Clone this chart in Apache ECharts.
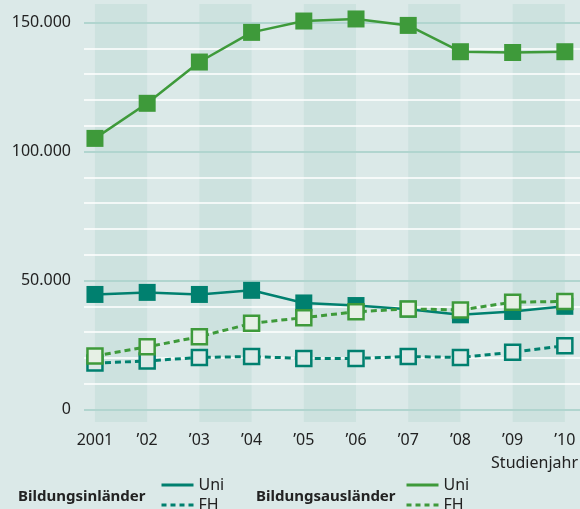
<!DOCTYPE html>
<html><head><meta charset="utf-8">
<script src="https://cdn.jsdelivr.net/npm/echarts@6/dist/echarts.min.js"></script>
<style>html,body{margin:0;padding:0;background:#dbe9e8;}#c{width:580px;height:509px;}</style>
</head><body><div id="c"></div>
<script>
const years = [2001, 2002, 2003, 2004, 2005, 2006, 2007, 2008, 2009, 2010];
const xTickLabels = ['2001', '\u201902', '\u201903', '\u201904', '\u201905', '\u201906', '\u201907', '\u201908', '\u201909', '\u201910'];
const yTickValues = [0, 50000, 100000, 150000];
const yTickLabels = ['0', '50.000', '100.000', '150.000'];
const minorGridValues = [10000, 20000, 30000, 40000, 60000, 70000, 80000, 90000, 110000, 120000, 130000, 140000];
const bandStarts = [2001, 2003, 2005, 2007, 2009];
const inlaenderUni = [44600, 45400, 44600, 46200, 41300, 40300, 38900, 36700, 38000, 40000];
const inlaenderFH = [18000, 18800, 20200, 20500, 19800, 19800, 20500, 20200, 22200, 24700];
const auslaenderUni = [105100, 118700, 134700, 146200, 150600, 151400, 148900, 138700, 138400, 138700];
const auslaenderFH = [20700, 24300, 28200, 33400, 35600, 37900, 39000, 38600, 41600, 41900];

const TEAL = '#00806f', GREEN = '#3e9a3a';
const FONT = 'Noto Sans';
const pairs = arr => years.map((y, i) => [y, arr[i]]);

const chart = echarts.init(document.getElementById('c'), null, {renderer: 'canvas'});
chart.setOption({
  animation: false,
  backgroundColor: '#dbe9e8',
  textStyle: {fontFamily: FONT},
  grid: {left: 84, right: 0, top: 4, bottom: 87},
  xAxis: {
    type: 'value', min: 2000.79, max: 2010.29,
    axisLine: {show: false}, axisTick: {show: false}, splitLine: {show: false},
    axisLabel: {customValues: years, formatter: v => xTickLabels[years.indexOf(v)],
      margin: 10, fontSize: 16, color: '#222', fontFamily: FONT}
  },
  yAxis: {
    type: 'value', min: -4850, max: 157200,
    axisLine: {show: false}, axisTick: {show: false}, splitLine: {show: false},
    axisLabel: {customValues: yTickValues, formatter: v => yTickLabels[yTickValues.indexOf(v)],
      margin: 13, fontSize: 16, color: '#222', fontFamily: FONT}
  },
  title: [
    {text: 'Studienjahr', right: 2, top: 455, padding: 0, textStyle: {fontSize: 16, fontWeight: 'normal', color: '#222', fontFamily: FONT}},
    {text: 'Bildungsinländer', left: 18, top: 489, padding: 0, textStyle: {fontSize: 15, fontWeight: 'bold', color: '#222', fontFamily: FONT}},
    {text: 'Bildungsausländer', left: 256, top: 489, padding: 0, textStyle: {fontSize: 15, fontWeight: 'bold', color: '#222', fontFamily: FONT}}
  ],
  legend: [
    {left: 160, top: 477, height: 80, orient: 'vertical', itemWidth: 32, itemHeight: 14, itemGap: 4, padding: 0,
      itemStyle: {opacity: 0}, formatter: n => n.split(' ')[1],
      textStyle: {fontSize: 16, color: '#222', fontFamily: FONT},
      data: [{name: 'Bildungsinländer Uni', lineStyle: {width: 3, type: 'solid'}},
             {name: 'Bildungsinländer FH', lineStyle: {width: 3, type: [5, 4]}}]},
    {left: 405, top: 477, height: 80, orient: 'vertical', itemWidth: 32, itemHeight: 14, itemGap: 4, padding: 0,
      itemStyle: {opacity: 0}, formatter: n => n.split(' ')[1],
      textStyle: {fontSize: 16, color: '#222', fontFamily: FONT},
      data: [{name: 'Bildungsausländer Uni', lineStyle: {width: 3, type: 'solid'}},
             {name: 'Bildungsausländer FH', lineStyle: {width: 3, type: [5, 4]}}]}
  ],
  series: [
    {
      type: 'line', data: [], silent: true, z: 1,
      markArea: {silent: true, z: 1, itemStyle: {color: '#cde2df'},
        data: bandStarts.map(s => [{xAxis: s}, {xAxis: s + 1}])},
      markLine: {silent: true, z: 2, symbol: 'none', label: {show: false}, emphasis: {disabled: true},
        data: minorGridValues.map(v => ({yAxis: v, lineStyle: {color: '#ffffff', width: 1.6, type: 'solid'}}))
          .concat(yTickValues.map(v => ({yAxis: v, lineStyle: {color: '#b1d5cf', width: 2, type: 'solid'}})))}
    },
    {name: 'Bildungsinländer FH', type: 'line', z: 10, data: pairs(inlaenderFH),
      symbol: 'rect', symbolSize: 15,
      lineStyle: {color: TEAL, width: 3, type: [6, 4]},
      itemStyle: {color: '#dbe9e7', borderColor: TEAL, borderWidth: 2.5}},
    {name: 'Bildungsinländer Uni', type: 'line', z: 10, data: pairs(inlaenderUni),
      symbol: 'rect', symbolSize: 17,
      lineStyle: {color: TEAL, width: 2.5},
      itemStyle: {color: TEAL}},
    {name: 'Bildungsausländer Uni', type: 'line', z: 10, data: pairs(auslaenderUni),
      symbol: 'rect', symbolSize: 17,
      lineStyle: {color: GREEN, width: 2.5},
      itemStyle: {color: GREEN}},
    {name: 'Bildungsausländer FH', type: 'line', z: 10, data: pairs(auslaenderFH),
      symbol: 'rect', symbolSize: 15,
      lineStyle: {color: GREEN, width: 3, type: [6, 4]},
      itemStyle: {color: '#e6f0e5', borderColor: GREEN, borderWidth: 2.5}}
  ]
});
</script></body></html>
